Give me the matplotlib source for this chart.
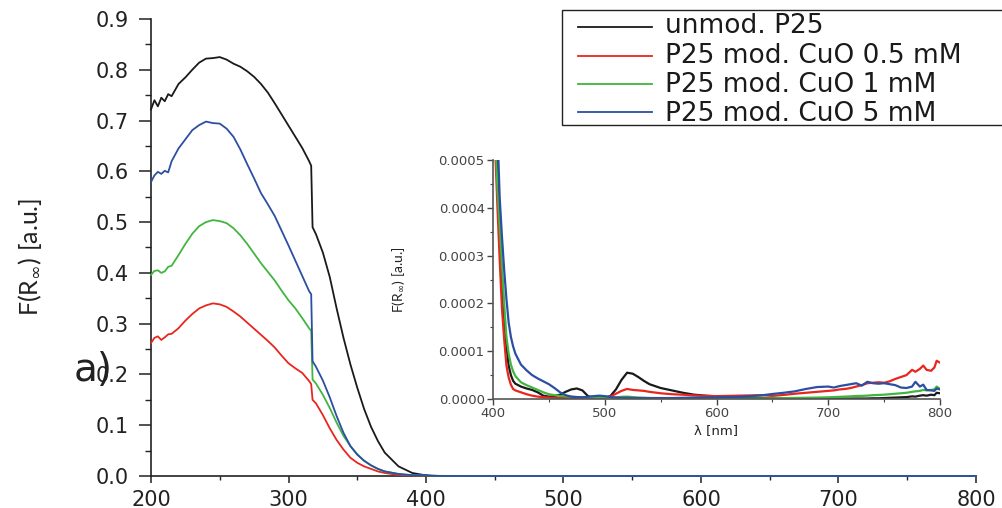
import numpy as np
import matplotlib
matplotlib.use('Agg')
import matplotlib.pyplot as plt
from matplotlib.lines import Line2D
from matplotlib.patches import Rectangle
from matplotlib.ticker import MultipleLocator, FormatStrFormatter

# wavelengths in the UV part (nm)
wl_uv = [200, 202.5, 205, 207.5, 210, 212.5, 215, 220, 225, 230, 235, 240, 245, 250,
         255, 260, 265, 270, 275, 280, 285, 290, 295, 300, 305, 310, 315, 316.5, 317.5,
         320, 325, 330, 335, 340, 345, 350, 355, 360, 365, 370, 380, 390]

uv_black = [0.722, 0.740, 0.728, 0.745, 0.738, 0.752, 0.748, 0.772, 0.785, 0.800, 0.814, 0.822, 0.823, 0.825,
            0.820, 0.812, 0.806, 0.797, 0.786, 0.772, 0.755, 0.734, 0.712, 0.690, 0.668, 0.646, 0.620, 0.611, 0.490,
            0.476, 0.440, 0.392, 0.330, 0.272, 0.220, 0.174, 0.132, 0.097, 0.069, 0.046, 0.019, 0.006]
uv_red = [0.262, 0.272, 0.275, 0.268, 0.273, 0.279, 0.280, 0.291, 0.306, 0.319, 0.330, 0.336, 0.340, 0.338,
          0.333, 0.324, 0.314, 0.302, 0.290, 0.278, 0.266, 0.253, 0.237, 0.222, 0.212, 0.203, 0.187, 0.181, 0.150,
          0.143, 0.120, 0.094, 0.071, 0.052, 0.036, 0.026, 0.019, 0.014, 0.009, 0.006, 0.002, 0.0008]
uv_green = [0.396, 0.404, 0.405, 0.400, 0.403, 0.412, 0.414, 0.435, 0.457, 0.477, 0.492, 0.500, 0.504, 0.502,
            0.498, 0.488, 0.474, 0.457, 0.438, 0.419, 0.402, 0.385, 0.365, 0.346, 0.330, 0.311, 0.291, 0.286, 0.190,
            0.182, 0.160, 0.134, 0.105, 0.079, 0.059, 0.043, 0.030, 0.021, 0.014, 0.009, 0.004, 0.0015]
uv_blue = [0.579, 0.592, 0.599, 0.595, 0.601, 0.598, 0.620, 0.645, 0.663, 0.681, 0.691, 0.698, 0.695, 0.694,
           0.684, 0.668, 0.643, 0.614, 0.586, 0.557, 0.535, 0.512, 0.483, 0.454, 0.424, 0.394, 0.364, 0.358, 0.226,
           0.215, 0.188, 0.155, 0.118, 0.085, 0.059, 0.042, 0.030, 0.021, 0.014, 0.009, 0.004, 0.0015]

# visible part (values in 1e-6 a.u.)
wl_vis = [400, 402, 404, 406, 408, 410, 412, 414, 416, 418, 420,
          425, 430, 435, 440, 445, 450, 455, 460, 465, 470, 475, 480, 485, 490, 495, 500,
          505, 510, 515, 520, 525, 530, 535, 540,
          550, 560, 570, 580, 590, 600, 620, 640,
          650, 660, 670, 680, 690, 700,
          705, 710, 715, 720, 725, 730, 735, 740, 745, 750, 755, 760, 765, 770, 775,
          778, 782, 785, 788, 792, 795, 797, 800]

vis_black = [1200, 700, 480, 330, 240, 170, 110, 70, 50, 38, 32,
             26, 22, 19, 14, 7, 5, 6, 9, 15, 20, 22, 18, 6, 3, 3, 3,
             6, 20, 40, 55, 53, 46, 38, 31,
             23, 18, 13, 9, 7, 5.5, 3, 2,
             1.5, 1, 1, 1, 1, 1,
             1, 1, 1, 1, 1, 1, 1, 1.5, 1.5, 2, 2.5, 3, 3.5, 4, 5.5,
             5, 7, 8, 7, 9, 8, 13, 12]
vis_red = [1000, 520, 400, 290, 190, 125, 70, 45, 30, 21, 18,
           14, 10, 7, 5, 4, 3, 2.5, 2, 2, 2, 2.5, 3, 3, 3, 3, 3.5,
           5, 11, 17, 21, 19, 18, 17, 15,
           12, 10, 9, 7.5, 6.5, 6, 7, 8,
           6.5, 8.5, 11, 13, 15, 17,
           18, 20, 21, 23, 26, 29, 33, 34, 35, 34, 37, 42, 46, 50, 61,
           57, 63, 70, 61, 59, 66, 80, 76]
vis_green = [1300, 560, 440, 360, 280, 200, 130, 95, 72, 58, 48,
             35, 29, 24, 19, 14, 10, 8, 6.5, 5.5, 4.5, 4, 3.5, 3, 3, 3, 3,
             3, 3.5, 4.5, 5, 4, 3, 2.5, 2,
             1.5, 1.2, 1, 1, 1, 1, 1, 1.2,
             1.4, 1.8, 2.2, 2.6, 3, 3.5,
             4, 4.5, 5, 5.5, 6.3, 6.5, 7, 8, 8.5, 9, 10, 11, 12, 13, 15,
             16, 17, 19, 18, 19, 20, 26, 21]
vis_blue = [2000, 900, 560, 420, 340, 270, 210, 160, 130, 110, 95,
            72, 60, 50, 43, 37, 31, 23, 14, 8, 5, 4, 3.5, 4.5, 6, 7, 6,
            4, 3, 2.5, 2.5, 2, 2, 2, 2,
            2, 2, 2.5, 3, 3, 3.5, 4.5, 7.5,
            10.5, 13, 16, 21, 25, 26,
            24, 27, 29, 31, 33, 28, 36, 33, 32, 33, 31, 29, 24, 23, 26,
            36, 26, 30, 19, 18, 17, 22, 20]

labels = ['unmod. P25', 'P25 mod. CuO 0.5 mM', 'P25 mod. CuO 1 mM', 'P25 mod. CuO 5 mM']
colors = ['#1a1a1a', '#e8261e', '#41b53f', '#2c4ea3']

uv_sets = [uv_black, uv_red, uv_green, uv_blue]
vis_sets = [vis_black, vis_red, vis_green, vis_blue]

W, H = 1003, 508
fig = plt.figure(figsize=(W / 100, H / 100), dpi=100)
ax = fig.add_axes([151 / W, (H - 476) / H, 825 / W, 457 / H])

for uv, vis, c in zip(uv_sets, vis_sets, colors):
    x = list(wl_uv) + list(wl_vis)
    y = list(uv) + [v * 1e-6 for v in vis]
    ax.plot(x, y, color=c, lw=1.3, clip_on=False, zorder=3)

ax.set_xlim(200, 800)
ax.set_ylim(0, 0.9)
for s in ['top', 'right']:
    ax.spines[s].set_visible(False)
for s in ['left', 'bottom']:
    ax.spines[s].set_linewidth(1.2)
    ax.spines[s].set_color('#222222')
ax.xaxis.set_major_locator(MultipleLocator(100))
ax.xaxis.set_minor_locator(MultipleLocator(50))
ax.yaxis.set_major_locator(MultipleLocator(0.1))
ax.yaxis.set_minor_locator(MultipleLocator(0.05))
ax.yaxis.set_major_formatter(FormatStrFormatter('%.1f'))
ax.tick_params(axis='y', which='major', direction='out', length=9, width=1.1, pad=7,
               labelsize=15, colors='#222222')
ax.tick_params(axis='y', which='minor', direction='out', length=4.5, width=1.0, colors='#222222')
ax.tick_params(axis='x', which='major', direction='out', length=5, width=1.1, pad=5,
               labelsize=15, colors='#222222')
ax.tick_params(axis='x', which='minor', direction='out', length=3, width=1.0, colors='#222222')
ax.set_ylabel(r'F(R$_{\infty}$) [a.u.]', fontsize=18, family='Lato', color='#222222')
ax.yaxis.set_label_coords((44 - 151) / 825, (476 - 257) / 457)

fig.text(93 / W, 1 - 370 / H, 'a)', fontsize=28, ha='center', va='center', color='#222222')

# legend box, partly cut by the right edge of the figure
fig.patches.append(Rectangle((562 / W, 1 - 125 / H), 460 / W, 115 / H, transform=fig.transFigure,
                             facecolor='white', edgecolor='#222222', lw=1.0, zorder=5))
line_y = [27, 56, 84, 112]
text_y = [33, 63, 92, 121]
for c, lab, ly, ty in zip(colors, labels, line_y, text_y):
    fig.lines.append(Line2D([578 / W, 652 / W], [1 - ly / H] * 2, transform=fig.transFigure,
                            color=c, lw=1.3, zorder=6))
    fig.text(665 / W, 1 - ty / H, lab, fontsize=19, va='baseline', ha='left',
             color='#1a1a1a', zorder=6)

# inset
ins = fig.add_axes([493 / W, (H - 399) / H, 447 / W, 239 / H])
for vis, c in zip(vis_sets, colors):
    ins.plot(wl_vis, [v * 1e-6 for v in vis], color=c, lw=1.6)
ins.set_xlim(400, 800)
ins.set_ylim(0, 0.0005)
ins.patch.set_alpha(0)
for s in ['top', 'right']:
    ins.spines[s].set_visible(False)
for s in ['left', 'bottom']:
    ins.spines[s].set_color('#555555')
    ins.spines[s].set_linewidth(1.2)
ins.xaxis.set_major_locator(MultipleLocator(100))
ins.xaxis.set_minor_locator(MultipleLocator(50))
ins.yaxis.set_major_locator(MultipleLocator(0.0001))
ins.yaxis.set_minor_locator(MultipleLocator(0.00005))
ins.yaxis.set_major_formatter(FormatStrFormatter('%.4f'))
ins.tick_params(which='major', direction='out', length=4, width=1, labelsize=9.5,
                colors='#444444', pad=2)
ins.tick_params(which='minor', direction='out', length=2.5, width=0.8, colors='#444444')
ins.set_xlabel('\u03bb [nm]', fontsize=9.5, color='#222222', labelpad=3)
ins.set_ylabel(r'F(R$_{\infty}$) [a.u.]', fontsize=10, family='Lato', color='#222222')
ins.yaxis.set_label_coords((407 - 493) / 447, (399 - 280) / 239)

fig.savefig('out.png', dpi=100)
